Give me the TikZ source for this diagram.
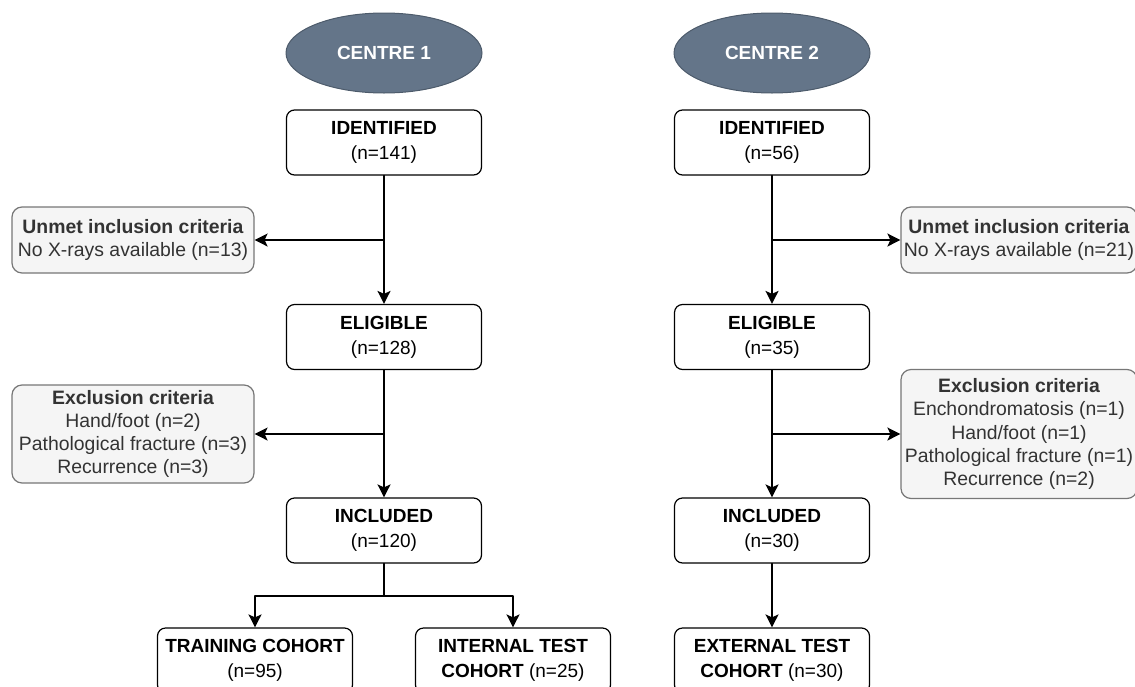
\documentclass[tikz,border=0pt]{standalone}
\usepackage{fontspec}
\setmainfont{Liberation Sans}
\usepackage{xcolor}
\usetikzlibrary{arrows.meta,shapes.geometric}
\definecolor{centrefill}{HTML}{647589}
\definecolor{centreline}{HTML}{4D5B6B}
\definecolor{notefill}{HTML}{F5F5F5}
\definecolor{noteline}{HTML}{777777}
\definecolor{notetext}{HTML}{333333}

\begin{document}
\begin{tikzpicture}[x=1pt,y=-1pt,line cap=round,line join=round,>={Stealth[length=13pt,width=13pt,inset=3pt]},
    centre/.style={ellipse,draw=centreline,line width=1pt,fill=centrefill,text=white,font=\fontsize{19}{24}\selectfont\bfseries,minimum width=196pt,minimum height=80pt,inner sep=0pt},
    stage/.style={draw=black,line width=1.2pt,fill=white,rounded corners=8pt,align=center,font=\fontsize{19}{25}\selectfont,minimum width=195pt,minimum height=65pt,inner sep=0pt},
    note/.style={draw=noteline,line width=1.2pt,fill=notefill,text=notetext,rounded corners=10pt,align=center,font=\fontsize{19.4}{23.3}\selectfont,inner sep=0pt},
    flow/.style={->,line width=1.6pt}]
                \useasboundingbox (0,0) rectangle (1135,686);
                \clip (0,0) rectangle (1135,686);
                \node[centre] (c1) at (384,53) {CENTRE 1};
                \node[centre] (c2) at (772,53) {CENTRE 2};
                \node[stage] (id1) at (384,142.5) {\textbf{IDENTIFIED}\\(n=141)};
                \node[stage] (id2) at (772,142.5) {\textbf{IDENTIFIED}\\(n=56)};
                \node[note,minimum width=242pt,minimum height=66pt] (un1) at (133,240) {\textbf{Unmet inclusion criteria}\\No X-rays available (n=13)};
                \node[note,minimum width=236pt,minimum height=66pt] (un2) at (1019,240) {\textbf{Unmet inclusion criteria}\\No X-rays available (n=21)};
                \node[stage] (el1) at (384,337) {\textbf{ELIGIBLE}\\(n=128)};
                \node[stage] (el2) at (772,337) {\textbf{ELIGIBLE}\\(n=35)};
                \node[note,minimum width=242pt,minimum height=98pt] (ex1) at (133,434) {\textbf{Exclusion criteria}\\Hand/foot (n=2)\\Pathological fracture (n=3)\\Recurrence (n=3)};
                \node[note,minimum width=236pt,minimum height=129pt] (ex2) at (1019,434) {\textbf{Exclusion criteria}\\Enchondromatosis (n=1)\\Hand/foot (n=1)\\Pathological fracture (n=1)\\Recurrence (n=2)};
                \node[stage] (in1) at (384,530.5) {\textbf{INCLUDED}\\(n=120)};
                \node[stage] (in2) at (772,530.5) {\textbf{INCLUDED}\\(n=30)};
                \node[stage] (tr) at (255,660.5) {\textbf{TRAINING COHORT}\\(n=95)};
                \node[stage] (it) at (513,660.5) {\textbf{INTERNAL TEST}\\\textbf{COHORT} (n=25)};
                \node[stage] (et) at (772,660.5) {\textbf{EXTERNAL TEST}\\\textbf{COHORT} (n=30)};
                \coordinate (split) at (384,596);
                \draw[flow] (id1) -- (el1);
                \draw[flow] (id1 |- un1) -- (un1);
                \draw[flow] (el1) -- (in1);
                \draw[flow] (el1 |- ex1) -- (ex1);
                \draw[line width=1.6pt] (in1) -- (split);
                \draw[flow] (split) -| (tr);
                \draw[flow] (split) -| (it);
                \draw[flow] (id2) -- (el2);
                \draw[flow] (id2 |- un2) -- (un2);
                \draw[flow] (el2) -- (in2);
                \draw[flow] (el2 |- ex2) -- (ex2);
                \draw[flow] (in2) -- (et);
\end{tikzpicture}
\end{document}
